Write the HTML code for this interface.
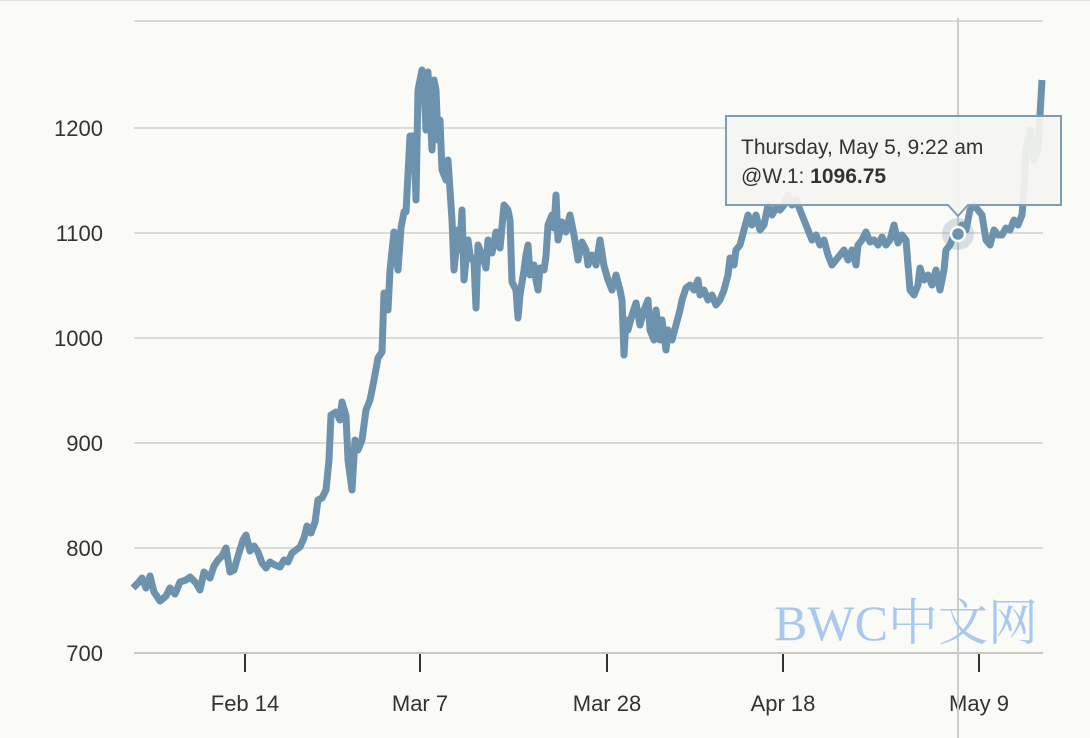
<!DOCTYPE html>
<html><head><meta charset="utf-8"><style>
html,body{margin:0;padding:0;background:#fafaf6;}
svg{display:block;}
</style></head><body>
<svg width="1090" height="738" viewBox="0 0 1090 738" xmlns="http://www.w3.org/2000/svg">
<rect width="1090" height="738" fill="#fafaf6"/>
<line x1="0" y1="0.5" x2="1090" y2="0.5" stroke="#e2e2dc"/>
<g stroke="#dcdcd6" stroke-width="2">
<line x1="134" y1="21" x2="1043" y2="21"/>
<line x1="134" y1="128" x2="1043" y2="128"/>
<line x1="134" y1="233" x2="1043" y2="233"/>
<line x1="134" y1="338" x2="1043" y2="338"/>
<line x1="134" y1="443" x2="1043" y2="443"/>
<line x1="134" y1="548" x2="1043" y2="548"/>
</g>
<line x1="134" y1="653" x2="1043" y2="653" stroke="#c8c8c2" stroke-width="2"/>
<g stroke="#333" stroke-width="2">
<line x1="245" y1="654" x2="245" y2="672"/>
<line x1="420" y1="654" x2="420" y2="672"/>
<line x1="607" y1="654" x2="607" y2="672"/>
<line x1="783" y1="654" x2="783" y2="672"/>
<line x1="979" y1="654" x2="979" y2="672"/>
</g>
<g font-family="Liberation Sans, sans-serif" font-size="22" fill="#333" text-anchor="end">
<text x="103" y="136">1200</text>
<text x="103" y="241">1100</text>
<text x="103" y="346">1000</text>
<text x="103" y="451">900</text>
<text x="103" y="556">800</text>
<text x="103" y="661">700</text>
</g>
<g font-family="Liberation Sans, sans-serif" font-size="22" fill="#333" text-anchor="middle">
<text x="245" y="711">Feb 14</text>
<text x="420" y="711">Mar 7</text>
<text x="607" y="711">Mar 28</text>
<text x="783" y="711">Apr 18</text>
<text x="979" y="711">May 9</text>
</g>
<line x1="958" y1="18" x2="958" y2="738" stroke="#ccc" stroke-width="2"/>
<text x="906" y="640" font-family="Liberation Serif, 'Noto Serif CJK SC', serif" font-size="50" fill="#a9c8ef" text-anchor="middle">BWC中文网</text>
<polyline fill="none" stroke="#6c92ad" stroke-width="7" stroke-linejoin="round" points="133,588 138,583 142,578 146,588 150,576 154,592 160,601 166,596 170,588 175,594 180,582 186,580 190,577 196,583 200,590 204,572 210,578 214,566 218,560 222,556 226,548 230,572 234,570 238,556 243,540 246,535 250,551 254,546 258,552 262,563 266,568 270,562 275,565 280,567 284,560 288,562 292,553 296,550 300,547 304,538 307,526 311,533 315,522 318,500 322,498 326,490 329,460 331,415 336,412 340,420 342,402 346,416 348,460 352,490 355,440 358,450 362,440 366,410 370,400 374,380 378,358 382,352 384,293 388,310 390,270 394,232 398,270 401,228 404,212 406,212 410,136 414,136 416,200 418,90 422,70 424,84 426,130 428,72 432,150 434,80 436,90 438,140 440,120 442,170 446,180 448,160 452,220 454,270 458,230 460,250 462,210 464,280 468,240 470,255 474,262 476,308 478,245 482,255 486,268 488,240 492,253 496,232 500,248 504,205 508,210 510,220 512,282 516,290 518,318 520,295 524,270 526,255 528,245 530,275 534,265 536,280 538,290 540,268 544,270 546,256 548,225 552,215 554,228 556,195 558,240 562,222 566,232 570,215 574,235 578,260 582,242 586,250 588,265 592,255 596,265 600,240 604,266 608,280 612,290 616,275 620,290 622,300 624,355 626,320 628,330 632,315 636,303 640,325 644,310 648,300 650,330 654,340 656,310 660,340 662,320 666,350 668,330 672,340 676,325 680,310 682,300 686,288 690,285 694,290 698,280 700,295 704,290 708,300 712,295 716,305 720,300 724,290 728,275 730,258 734,265 736,250 740,245 744,230 748,215 752,225 756,215 760,230 764,225 768,205 772,215 776,208 780,210 784,205 788,195 792,205 796,200 800,210 804,220 808,230 812,240 816,235 820,245 824,240 828,255 832,265 836,260 840,255 844,250 848,260 852,250 856,265 858,245 862,240 866,232 870,242 874,240 878,245 882,237 886,245 890,240 894,225 898,243 902,235 906,240 910,290 914,295 918,285 920,268 924,280 928,275 932,285 936,270 940,290 944,270 946,250 950,245 954,235 958,234 962,225 966,230 970,210 974,205 978,210 982,215 986,240 990,245 994,230 998,235 1002,235 1006,228 1010,230 1014,220 1018,225 1022,215 1024,190 1026,150 1030,130 1034,160 1038,150 1040,115 1042,80"/>
<circle cx="958" cy="234" r="16" fill="#6c92ad" opacity="0.25"/>
<circle cx="958" cy="234" r="7" fill="#6c92ad" stroke="#fff" stroke-width="2.5"/>
<g>
<path d="M726,116 H1061 V205 H968 L958,216 L948,205 H726 Z" fill="#f4f4f0" fill-opacity="0.93" stroke="#7d9db5" stroke-width="2"/>
<text x="741" y="154" font-family="Liberation Sans, sans-serif" font-size="21" fill="#333">Thursday, May 5, 9:22 am</text>
<text x="741" y="183" font-family="Liberation Sans, sans-serif" font-size="21" fill="#333">@W.1: <tspan font-weight="bold">1096.75</tspan></text>
</g>
</svg>
</body></html>
